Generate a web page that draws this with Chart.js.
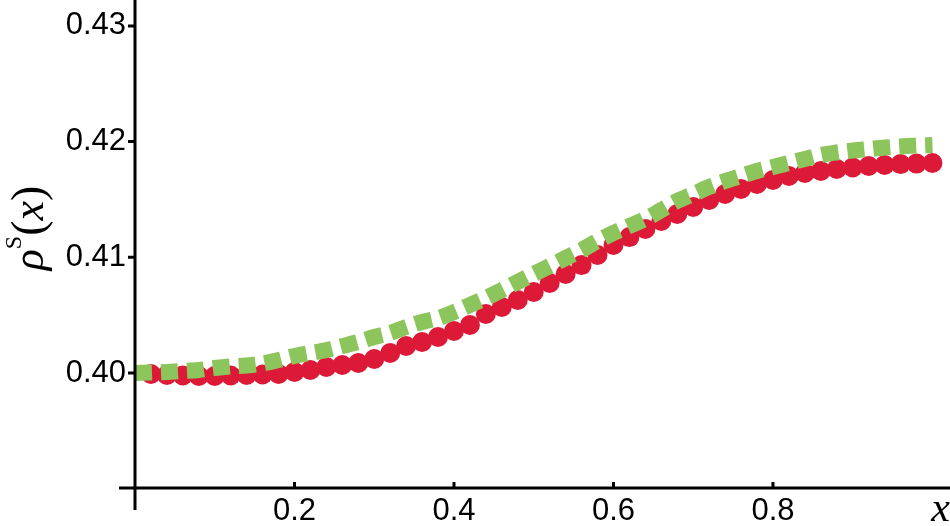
<!DOCTYPE html>
<html>
<head>
<meta charset="utf-8">
<script src="https://cdn.jsdelivr.net/npm/chart.js@4"></script>
<style>
  html, body { margin: 0; padding: 0; background: #fff; }
  #wrap { width: 950px; height: 526px; }
</style>
</head>
<body>
<div id="wrap"><canvas id="lineChart"></canvas></div>
<script>
// smooth curve (dashed green), sampled every 0.02
const curveX = [0, 0.02, 0.04, 0.06, 0.08, 0.10, 0.12, 0.14, 0.16, 0.18, 0.20, 0.22, 0.24, 0.26, 0.28, 0.30,
  0.32, 0.34, 0.36, 0.38, 0.40, 0.42, 0.44, 0.46, 0.48, 0.50, 0.52, 0.54, 0.56, 0.58, 0.60, 0.62, 0.64,
  0.66, 0.68, 0.70, 0.72, 0.74, 0.76, 0.78, 0.80, 0.82, 0.84, 0.86, 0.88, 0.90, 0.92, 0.94, 0.96, 0.98, 1.00];
const curveY = [0.40000, 0.40004, 0.40009, 0.40017, 0.40026, 0.40043, 0.40056, 0.40065, 0.40082, 0.40112,
  0.40147, 0.40173, 0.40199, 0.40233, 0.40268, 0.40311, 0.40346, 0.40398, 0.40441, 0.40475, 0.40527,
  0.40588, 0.40648, 0.40717, 0.40787, 0.40856, 0.40925, 0.40994, 0.41063, 0.41141, 0.41210, 0.41271,
  0.41331, 0.41409, 0.41487, 0.41547, 0.41608, 0.41659, 0.41703, 0.41746, 0.41780, 0.41815, 0.41850,
  0.41884, 0.41906, 0.41923, 0.41936, 0.41949, 0.41958, 0.41966, 0.41971];

// simulated points (red dots)
const dotX = curveX.slice(1);
const dotY = [0.39991, 0.39983, 0.39978, 0.39974, 0.39974, 0.39978, 0.39983, 0.39987, 0.39991, 0.40009,
  0.40026, 0.40052, 0.40069, 0.40086, 0.40121, 0.40173, 0.40233, 0.40268, 0.40311, 0.40363, 0.40415,
  0.40510, 0.40570, 0.40631, 0.40700, 0.40778, 0.40856, 0.40933, 0.41020, 0.41106, 0.41175, 0.41245,
  0.41314, 0.41374, 0.41435, 0.41495, 0.41547, 0.41590, 0.41634, 0.41668, 0.41703, 0.41729, 0.41746,
  0.41763, 0.41776, 0.41789, 0.41798, 0.41806, 0.41810, 0.41815];

const xTicks = [0.2, 0.4, 0.6, 0.8];
const yTicks = [0.40, 0.41, 0.42, 0.43];

const xMin = 0, xMax = 1.022;
const yMin = 0.39006, yMax = 0.43224;

const toPoints = (xs, ys) => xs.map((x, i) => ({ x: x, y: ys[i] }));

// Mathematica-like crossing axes + rotated y label
const axesPlugin = {
  id: 'axes',
  afterDatasetsDraw(chart) {
    const ctx = chart.ctx;
    const xs = chart.scales.x, ys = chart.scales.y;
    const x0 = xs.getPixelForValue(0);
    const y0 = ys.getPixelForValue(yMin);
    ctx.save();
    ctx.strokeStyle = '#000';
    ctx.lineWidth = 3;
    ctx.beginPath();
    ctx.moveTo(x0, 0);
    ctx.lineTo(x0, y0 + 22);
    ctx.moveTo(x0 - 16, y0);
    ctx.lineTo(chart.width, y0);
    yTicks.forEach(v => {
      const p = ys.getPixelForValue(v);
      ctx.moveTo(x0 - 7, p);
      ctx.lineTo(x0, p);
    });
    xTicks.forEach(v => {
      const p = xs.getPixelForValue(v);
      ctx.moveTo(p, y0 - 6);
      ctx.lineTo(p, y0);
    });
    ctx.stroke();

    // rho^S(x)
    const big = '46px "Liberation Serif"';
    const bigIt = 'italic 44px "Liberation Serif"';
    const small = '24px "Liberation Serif"';
    const parts = [
      { t: '\u03C1', f: bigIt, dy: 0 },
      { t: 'S', f: small, dy: -22 },
      { t: '(', f: big, dy: 0 },
      { t: 'x', f: bigIt, dy: 0 },
      { t: ')', f: big, dy: 0 }
    ];
    let total = 0;
    parts.forEach(p => { ctx.font = p.f; p.w = ctx.measureText(p.t).width; total += p.w; });
    ctx.translate(43, 228);
    ctx.rotate(-Math.PI / 2);
    ctx.fillStyle = '#000';
    ctx.textBaseline = 'alphabetic';
    ctx.textAlign = 'left';
    let cx = -total / 2;
    parts.forEach(p => {
      ctx.font = p.f;
      ctx.fillText(p.t, cx, p.dy);
      cx += p.w;
    });
    ctx.restore();
  }
};

new Chart(document.getElementById('lineChart').getContext('2d'), {
  type: 'scatter',
  data: {
    datasets: [{
      label: 'curve',
      data: toPoints(curveX, curveY),
      showLine: true,
      borderColor: '#8CC55C',
      borderWidth: 16,
      borderDash: [17, 9],
      borderCapStyle: 'butt',
      cubicInterpolationMode: 'monotone',
      pointRadius: 0,
      clip: false,
      order: 0
    }, {
      label: 'points',
      data: toPoints(dotX, dotY),
      showLine: false,
      pointRadius: 10,
      pointBorderWidth: 0,
      pointBackgroundColor: '#DC1A38',
      pointBorderColor: '#DC1A38',
      clip: false,
      order: 1
    }]
  },
  options: {
    responsive: true,
    maintainAspectRatio: false,
    animation: false,
    layout: { padding: 0, autoPadding: false },
    plugins: {
      legend: { display: false },
      tooltip: { enabled: false }
    },
    scales: {
      x: {
        type: 'linear',
        min: xMin,
        max: xMax,
        grid: { display: false },
        border: { display: false },
        afterBuildTicks: s => { s.ticks = xTicks.map(v => ({ value: v })); },
        afterFit: s => { s.height = 38; s.paddingLeft = 0; s.paddingRight = 0; },
        ticks: {
          autoSkip: false,
          maxRotation: 0,
          padding: -3,
          color: '#000',
          font: { family: '"Liberation Sans"', size: 31 },
          callback: v => String(v)
        },
        title: {
          display: true,
          text: 'x',
          align: 'end',
          color: '#000',
          font: { family: '"Liberation Serif"', size: 42, style: 'italic', lineHeight: 1 },
          padding: { top: 0, bottom: -5 }
        }
      },
      y: {
        type: 'linear',
        min: yMin,
        max: yMax,
        grid: { display: false },
        border: { display: false },
        afterBuildTicks: s => { s.ticks = yTicks.map(v => ({ value: v })); },
        afterFit: s => { s.width = 135; s.paddingTop = 0; s.paddingBottom = 0; },
        ticks: {
          padding: 1,
          color: '#000',
          font: { family: '"Liberation Sans"', size: 31 },
          callback: v => v.toFixed(2)
        }
      }
    }
  },
  plugins: [axesPlugin]
});
</script>
</body>
</html>
